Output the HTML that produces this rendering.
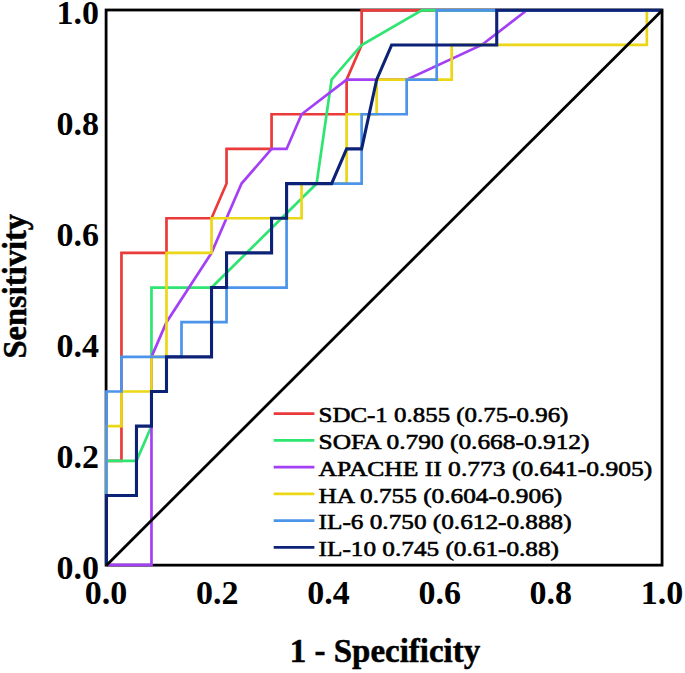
<!DOCTYPE html>
<html><head><meta charset="utf-8"><title>ROC</title>
<style>
html,body{margin:0;padding:0;background:#fff;}
body{width:685px;height:673px;overflow:hidden;font-family:"Liberation Serif",serif;}
svg{display:block;}
</style></head><body>
<svg width="685" height="673" viewBox="0 0 685 673">
<rect x="0" y="0" width="685" height="673" fill="#ffffff"/>
<rect x="106.10" y="10.00" width="555.95" height="555.15" fill="none" stroke="#000" stroke-width="2.8"/>
<polyline points="106.45,564.80 106.45,460.83 121.46,460.83 121.46,252.89 166.49,252.89 166.49,218.24 211.53,218.24 226.54,183.58 226.54,148.92 271.57,148.92 271.57,114.27 346.62,114.27 346.62,79.61 361.63,44.96 361.63,10.30 661.85,10.30" fill="none" stroke="#ea3a3a" stroke-width="2.70" stroke-linejoin="miter" stroke-linecap="butt"/>
<polyline points="106.45,564.80 106.45,460.83 136.47,460.83 151.48,426.17 151.48,287.55 211.53,287.55 316.60,183.58 331.61,79.61 361.63,44.96 421.68,10.30 661.85,10.30" fill="none" stroke="#2ee572" stroke-width="2.70" stroke-linejoin="miter" stroke-linecap="butt"/>
<polyline points="106.45,564.80 151.48,564.80 151.48,356.86 166.49,322.21 211.53,252.89 241.55,183.58 271.57,148.92 286.58,148.92 301.59,114.27 346.62,79.61 406.67,79.61 481.72,44.96 526.75,10.30 661.85,10.30" fill="none" stroke="#a340f5" stroke-width="2.70" stroke-linejoin="miter" stroke-linecap="butt"/>
<polyline points="106.45,564.80 106.45,426.17 121.46,426.17 121.46,391.52 151.48,391.52 151.48,356.86 166.49,356.86 166.49,252.89 211.53,252.89 211.53,218.24 301.59,218.24 301.59,183.58 346.62,183.58 346.62,114.27 376.64,114.27 376.64,79.61 451.70,79.61 451.70,44.96 646.84,44.96 646.84,10.30 661.85,10.30" fill="none" stroke="#ebd716" stroke-width="2.70" stroke-linejoin="miter" stroke-linecap="butt"/>
<polyline points="106.45,564.80 106.45,391.52 121.46,391.52 121.46,356.86 181.50,356.86 181.50,322.21 226.54,322.21 226.54,287.55 286.58,287.55 286.58,183.58 361.63,183.58 361.63,114.27 406.67,114.27 406.67,79.61 436.69,79.61 436.69,10.30 661.85,10.30" fill="none" stroke="#4c94ea" stroke-width="2.70" stroke-linejoin="miter" stroke-linecap="butt"/>
<polyline points="106.45,564.80 106.45,495.49 136.47,495.49 136.47,426.17 151.48,426.17 151.48,391.52 166.49,391.52 166.49,356.86 211.53,356.86 211.53,287.55 226.54,287.55 226.54,252.89 271.57,252.89 271.57,218.24 286.58,218.24 286.58,183.58 331.61,183.58 346.62,148.92 361.63,148.92 376.64,79.61 391.66,44.96 496.73,44.96 496.73,10.30 661.85,10.30" fill="none" stroke="#0c2276" stroke-width="3.10" stroke-linejoin="miter" stroke-linecap="butt"/>
<line x1="106.30" y1="565.45" x2="662.25" y2="10.30" stroke="#000" stroke-width="2.8" stroke-linecap="butt"/>
<g font-family="'Liberation Serif', serif" font-weight="bold" font-size="34" fill="#000">
<text x="99.00" y="579.05" text-anchor="end">0.0</text>
<text x="99.00" y="468.02" text-anchor="end">0.2</text>
<text x="99.00" y="356.99" text-anchor="end">0.4</text>
<text x="99.00" y="245.96" text-anchor="end">0.6</text>
<text x="99.00" y="134.93" text-anchor="end">0.8</text>
<text x="99.00" y="23.90" text-anchor="end">1.0</text>
<text x="106.10" y="603.50" text-anchor="middle">0.0</text>
<text x="217.29" y="603.50" text-anchor="middle">0.2</text>
<text x="328.48" y="603.50" text-anchor="middle">0.4</text>
<text x="439.67" y="603.50" text-anchor="middle">0.6</text>
<text x="550.86" y="603.50" text-anchor="middle">0.8</text>
<text x="662.05" y="603.50" text-anchor="middle">1.0</text>
<text x="289.80" y="662.20" textLength="190.40" lengthAdjust="spacingAndGlyphs" stroke="#000" stroke-width="0.5">1 - Specificity</text>
<text transform="translate(26.40,358.50) rotate(-90)" textLength="144.60" lengthAdjust="spacingAndGlyphs" stroke="#000" stroke-width="0.5">Sensitivity</text>
</g>
<g font-family="'Liberation Serif', serif" font-weight="normal" font-size="22" fill="#000" stroke="#000" stroke-width="0.6">
<line x1="273.7" y1="413.60" x2="314.4" y2="413.60" stroke="#ea3a3a" stroke-width="2.6"/>
<text x="318.60" y="422.40" textLength="249.80" lengthAdjust="spacingAndGlyphs">SDC-1 0.855 (0.75-0.96)</text>
<line x1="273.7" y1="440.36" x2="314.4" y2="440.36" stroke="#2ee572" stroke-width="2.6"/>
<text x="318.60" y="449.16" textLength="270.90" lengthAdjust="spacingAndGlyphs">SOFA 0.790 (0.668-0.912)</text>
<line x1="273.7" y1="467.12" x2="314.4" y2="467.12" stroke="#a340f5" stroke-width="2.6"/>
<text x="318.60" y="475.92" textLength="333.70" lengthAdjust="spacingAndGlyphs">APACHE II 0.773 (0.641-0.905)</text>
<line x1="273.7" y1="493.88" x2="314.4" y2="493.88" stroke="#ebd716" stroke-width="2.6"/>
<text x="318.60" y="502.68" textLength="243.60" lengthAdjust="spacingAndGlyphs">HA 0.755 (0.604-0.906)</text>
<line x1="273.7" y1="520.64" x2="314.4" y2="520.64" stroke="#4c94ea" stroke-width="2.6"/>
<text x="318.60" y="529.44" textLength="253.00" lengthAdjust="spacingAndGlyphs">IL-6 0.750 (0.612-0.888)</text>
<line x1="273.7" y1="547.40" x2="314.4" y2="547.40" stroke="#0c2276" stroke-width="2.6"/>
<text x="318.60" y="556.20" textLength="240.40" lengthAdjust="spacingAndGlyphs">IL-10 0.745 (0.61-0.88)</text>
</g>
</svg>
</body></html>
